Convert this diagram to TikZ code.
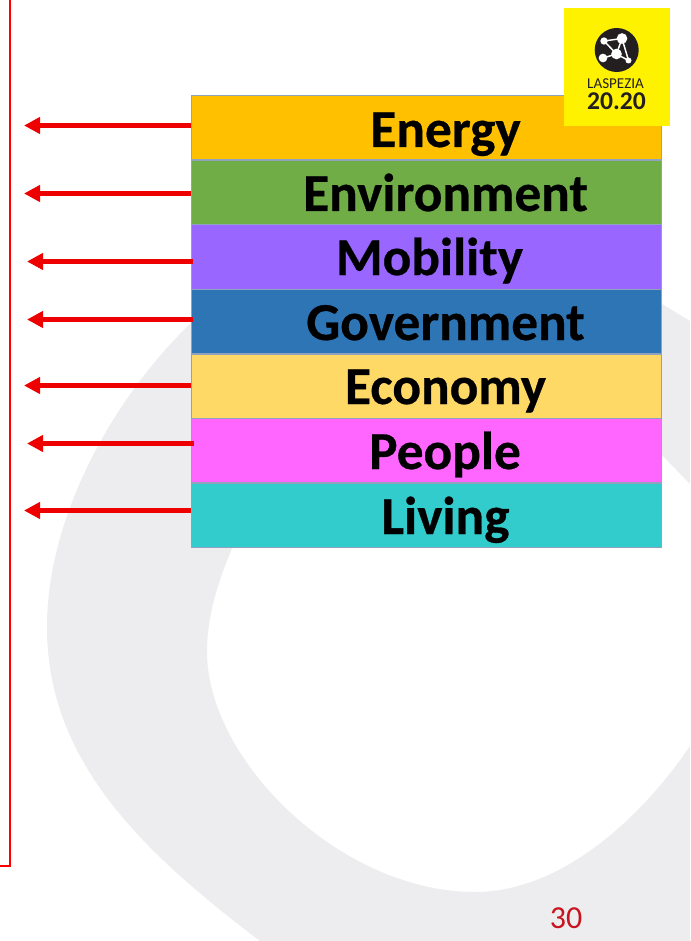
\documentclass[tikz,border=0pt]{standalone}
\usepackage{fontspec}
\setmainfont{Carlito}
\newfontfamily\labfont[BoldFeatures={FakeBold=0.5}]{Carlito}
\definecolor{blobgray}{HTML}{EDEDEF}
\definecolor{edgeblue}{HTML}{8FA3BF}
\definecolor{arrowred}{HTML}{EE0000}
\definecolor{frame}{HTML}{FF0000}
\definecolor{logoyellow}{HTML}{FFF200}
\definecolor{logodark}{HTML}{231F20}
\usetikzlibrary{arrows.meta}
\tikzset{
 x=0.75pt,y=-0.75pt,
 band/.style={draw=edgeblue,line width=0.75pt,minimum width=352.5pt,minimum height=48pt,inner sep=0pt,anchor=north west},
 lab/.style={font=\labfont\bfseries\fontsize{40pt}{40pt}\selectfont,inner sep=0pt,text=black,anchor=base},
 arr/.style={draw=arrowred,line width=3.4pt,-{Triangle[length=12pt,width=12pt]}},
 logodot/.style={circle,fill=white,inner sep=0pt},
 logoline/.style={draw=white,line width=1.1pt},
}
\begin{document}
\begin{tikzpicture}
\useasboundingbox (0,0) rectangle (690,941);
\fill[white] (0,0) rectangle (690,941);
% background blob
\fill[blobgray,even odd rule]
 (47,627) .. controls (47,520) and (110,400) .. (194,320)
 .. controls (300,200) and (520,230) .. (662,304)
 -- (690,321) -- (690,941) -- (260,941)
 .. controls (140,850) and (47,760) .. (47,627) -- cycle
 (207,652) .. controls (207,620) and (215,585) .. (240,530)
 .. controls (300,420) and (560,380) .. (662,455)
 -- (690,484) -- (690,746)
 .. controls (640,820) and (560,892) .. (475,892)
 .. controls (340,892) and (207,760) .. (207,652) -- cycle;
% frame
\draw[frame,line width=1.3pt] (10,0) -- (10,866) -- (0,866);
% bands
\node[band,fill={rgb,255:red,255;green,192;blue,0}] (energy) at (191,95.5) {};
\node[band,fill={rgb,255:red,112;green,173;blue,71}] (environment) at (191,160) {};
\node[band,fill={rgb,255:red,153;green,102;blue,255}] (mobility) at (191,224.5) {};
\node[band,fill={rgb,255:red,46;green,117;blue,182}] (government) at (191,289) {};
\node[band,fill={rgb,255:red,255;green,217;blue,102}] (economy) at (191,353.5) {};
\node[band,fill={rgb,255:red,255;green,102;blue,255}] (people) at (191,418) {};
\node[band,fill={rgb,255:red,51;green,204;blue,204}] (living) at (191,482.5) {};
\node[lab] (t1) at (445.5,147) {Energy};
\node[lab] (t2) at (445.5,211) {Environment};
\node[lab] (t3) at (429.5,275) {Mobility};
\node[lab] (t4) at (445.5,340) {Government};
\node[lab] (t5) at (445.5,404) {Economy};
\node[lab] (t6) at (445,469) {People};
\node[lab] (t7) at (445.5,534) {Living};
% arrow ends
\coordinate (e1) at (24,125.5);
\coordinate (e2) at (24,193.5);
\coordinate (e3) at (27,261.5);
\coordinate (e4) at (27,319.5);
\coordinate (e5) at (24,385.5);
\coordinate (e6) at (27,443.5);
\coordinate (e7) at (24,510.5);
\draw[arr] (energy.west |- e1) -- (e1);
\draw[arr] (environment.west |- e2) -- (e2);
\draw[arr] ([xshift=1.5pt]mobility.west |- e3) -- (e3);
\draw[arr] ([xshift=1.5pt]government.west |- e4) -- (e4);
\draw[arr] (economy.west |- e5) -- (e5);
\draw[arr] ([xshift=2.25pt]people.west |- e6) -- (e6);
\draw[arr] (living.west |- e7) -- (e7);
% logo
\node[fill=logoyellow,minimum width=79.5pt,minimum height=88.5pt,inner sep=0pt,anchor=north west] (logo) at (564,8) {};
\fill[logodark] (616.7,50) circle (22);
\coordinate (a) at (604,41);
\coordinate (b) at (622,38.5);
\coordinate (c) at (616.5,54);
\coordinate (d) at (603,58);
\coordinate (g) at (628.5,60.5);
\draw[logoline] (a) -- (b) -- (g) -- (c) -- (d) (c) -- (a) (b) -- (c);
\node[logodot,minimum size=5.5pt] (na) at (a) {};
\node[logodot,minimum size=8pt] (nb) at (b) {};
\node[logodot,minimum size=8pt] (nc) at (c) {};
\node[logodot,minimum size=6.5pt] (nd) at (d) {};
\node[logodot,minimum size=4.5pt] (ng) at (g) {};
\node[font=\fontsize{11.3pt}{11.3pt}\selectfont,text=logodark,inner sep=0pt] (l1) at (615.5,84) {LASPEZIA};
\node[font=\bfseries\fontsize{19.2pt}{19.2pt}\selectfont,text=logodark,inner sep=0pt] (l2) at (616.5,101.5) {20.20};
% page number
\node[font=\fontsize{24pt}{24pt}\selectfont,text={rgb,255:red,200;green,20;blue,30},inner sep=0pt] (pg) at (566,918) {30};
\end{tikzpicture}
\end{document}
